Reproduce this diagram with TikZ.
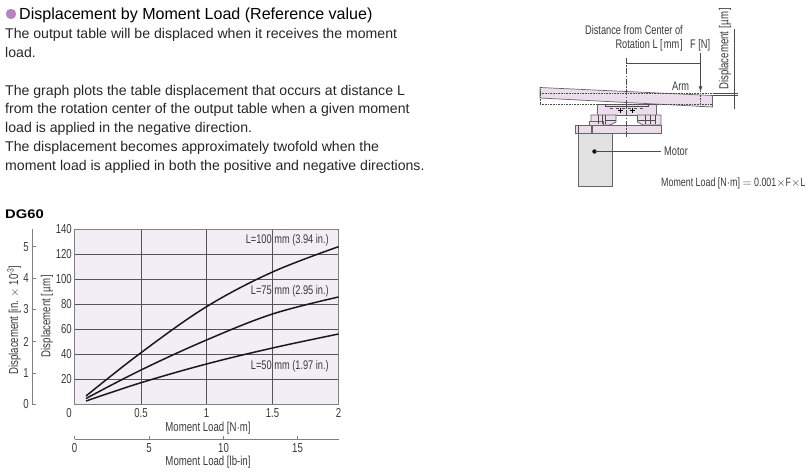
\documentclass[tikz,border=0pt]{standalone}
\usepackage{fontspec}
\setmainfont{Liberation Sans}
\newfontfamily\condfont[FakeStretch=0.74]{Liberation Sans}
\newfontfamily\headfont[FakeStretch=1.18]{Liberation Sans}
\usepackage{tikz}
\usetikzlibrary{arrows.meta}
\definecolor{inkgray}{HTML}{3A3A3A}
\definecolor{gridgray}{HTML}{555555}
\definecolor{axisgray}{HTML}{808080}
\definecolor{plotpink}{HTML}{F3EEF6}
\definecolor{armpink}{HTML}{EBDDEC}
\definecolor{motorgray}{HTML}{E2E2E2}
\definecolor{bulletpurple}{HTML}{B683C4}
\newcommand{\micron}{[\kern0.8ptµ\kern0.8ptm\kern0.8pt]}
\tikzset{
    bodytext/.style={anchor=base west, inner sep=0pt, text=black!85, font=\fontsize{14.1}{16}\selectfont},
    chartlabel/.style={inner sep=0pt, text=inkgray, font=\condfont\fontsize{13}{15}\selectfont},
    curvelabel/.style={inner sep=0pt, text=inkgray, anchor=east, font=\condfont\fontsize{12.5}{14}\selectfont},
    smalllabel/.style={inner sep=0pt, text=inkgray, font=\condfont\fontsize{12.5}{14}\selectfont},
    gridline/.style={gridgray, line width=0.8pt},
    curveline/.style={black!90, line width=1.5pt},
    axisline/.style={axisgray, line width=0.9pt},
    partline/.style={black!60, line width=0.7pt, fill=armpink},
    thinline/.style={black!70, line width=0.6pt},
}
\begin{document}
\begin{tikzpicture}[x=1pt, y=-1pt]
    \useasboundingbox (0,0) rectangle (810,473);
    % text block
    \fill[bulletpurple] (11,14) circle (5.2);
    \node[anchor=base west, inner sep=0pt, font=\fontsize{16.05}{18}\selectfont] (title) at (19,19.5) {Displacement by Moment Load (Reference value)};
    \foreach \y/\txt [count=\i] in {
        38.5/The output table will be displaced when it receives the moment,
        57.5/load.,
        96/The graph plots the table displacement that occurs at distance L,
        114/from the rotation center of the output table when a given moment,
        133/load is applied in the negative direction.,
        152/The displacement becomes approximately twofold when the,
        171/moment load is applied in both the positive and negative directions.
    } {
        \node[bodytext] (line\i) at (5,\y) {\txt};
    }
    \node[anchor=base west, inner sep=0pt, font=\headfont\bfseries\fontsize{12.5}{14}\selectfont] (dgname) at (5,218) {DG60};
    % graph
    \fill[plotpink] (74.5,229) rectangle (338.5,404.5);
    \foreach \y in {254,279,304,329,354.5,379.5} {
        \draw[gridline] (74.5,\y) -- (338.5,\y);
    }
    \foreach \x in {141,206.5,272.5} {
        \draw[gridline, line width=1pt] (\x,229) -- (\x,404.5);
    }
    \draw[axisline] (74.5,229) rectangle (338.5,404.5);
    \draw[curveline] plot[smooth, tension=0.6] coordinates {(86,396) (141,352.7) (206.5,306.7) (272.5,272) (338.5,246.7)};
    \draw[curveline] plot[smooth, tension=0.6] coordinates {(86,398.5) (141,370) (206.5,340) (272.5,314) (338.5,297)};
    \draw[curveline] plot[smooth, tension=0.6] coordinates {(86,401) (141,382.7) (206.5,364) (272.5,348) (338.5,334)};
    \node[curvelabel] (labelhundred) at (329,240.5) {L=100 mm (3.94 in.)};
    \node[curvelabel] (labelseventyfive) at (329,291) {L=75 mm (2.95 in.)};
    \node[curvelabel] (labelfifty) at (329,366) {L=50 mm (1.97 in.)};
    % axis labels of the graph
    \foreach \y/\txt in {229/140,254/120,279/100,304/80,329/60,354.5/40,379.5/20} {
        \node[chartlabel, anchor=east] (um\txt) at (72,\y) {\txt};
    }
    \foreach \x/\txt in {69/0,141/0.5,206.5/1,272.5/1.5,338.5/2} {
        \node[chartlabel] (nm\txt) at (\x,413) {\txt};
    }
    \node[chartlabel] (nmtitle) at (208,428) {Moment Load [N$\cdot$m]};
    \node[chartlabel, rotate=90] (umtitle) at (47,316) {Displacement \micron};
    % inch axis
    \coordinate (intop) at (32.5,229);
    \coordinate (inbottom) at (32.5,404.5);
    \draw[axisline] (intop) -- (inbottom);
    \foreach \y/\txt in {404.5/0,373.5/1,341.5/2,309.5/3,278/4,246.7/5} {
        \draw[axisline] (32.5,\y) -- (36,\y);
        \node[chartlabel, anchor=east] (in\txt) at (29,\y) {\txt};
    }
    \node[chartlabel, rotate=90] (intitle) at (14,320) {Displacement [in. $\times$ 10\textsuperscript{-3}]};
    % lb-in axis
    \coordinate (lbleft) at (74.5,439);
    \coordinate (lbright) at (338.5,439);
    \draw[axisline] (lbleft) -- (lbright);
    \foreach \x/\txt in {74.5/0,149/5,223.5/10,297.5/15} {
        \draw[axisline] (\x,439) -- (\x,436);
        \node[chartlabel] (lb\txt) at (\x,448.5) {\txt};
    }
    \node[chartlabel] (lbtitle) at (208,462) {Moment Load [lb-in]};
    % cut-away of the table and motor
    \draw[partline, fill=motorgray] (578,133) rectangle (612.5,186.5);
    \draw[partline] (597.5,104) rectangle (656,115);
    \draw[partline] (591,115) -- (616,115) -- (616,122) -- (610,125) -- (591,125) -- cycle;
    \draw[partline] (637.5,115) -- (661,115) -- (661,125) -- (643,125) -- (637.5,122) -- cycle;
    \draw[partline] (589,121) rectangle (603,125);
    \draw[partline] (592,125) rectangle (661,133.5);
    \draw[partline] (575.5,125.5) rectangle (591,133.5);
    \draw[thinline] (578,125.5) -- (578,133.5);
    \foreach \x in {598,602,605} {
        \draw[thinline] (\x,115) -- (\x,124);
    }
    \foreach \x in {645,650,655} {
        \draw[thinline] (\x,115) -- (\x,124);
    }
    \draw[thinline] (605,120) -- (616,120);
    \draw[thinline] (637.5,120) -- (655,120);
    % arm
    \draw[partline] (540,87.5) -- (712.5,95.5) -- (712.5,107) -- (540,98) -- cycle;
    \draw[thinline, densely dotted] (540,93.5) -- (712.5,93.5);
    \draw[thinline, densely dotted] (540,104.5) -- (712.5,104.5);
    \draw[thinline, densely dotted] (540,87.5) -- (540,104.5);
    \draw[thinline] (605,104) -- (605,106.5) -- (648,106.5) -- (648,104);
    \draw[thinline, dashed] (610,108) -- (645,108);
    \draw[black, line width=0.8pt] (617.8,110.5) -- (622.8,110.5) (620.3,108) -- (620.3,113);
    \draw[black, line width=0.8pt] (629.5,110.5) -- (634.5,110.5) (632,108) -- (632,113);
    % centre line and dimension
    \coordinate (centertop) at (626.5,58);
    \coordinate (centerbottom) at (626.5,137);
    \draw[thinline, dash pattern=on 6pt off 1.5pt on 1.5pt off 1.5pt] (centertop) -- (centerbottom);
    \coordinate (forcetop) at (700.5,53);
    \coordinate (forcetip) at (700.5,91.5);
    \coordinate (forcefoot) at (700.5,107);
    \coordinate (distleft) at (626.5,63.5);
    \coordinate (distright) at (700.5,63.5);
    \draw[thinline] (distleft) -- (distright);
    \draw[thinline, -{Latex[length=5pt, width=4pt]}] (forcetop) -- (forcetip);
    \draw[thinline, densely dotted] (forcetip) -- (forcefoot);
    % displacement marks
    \coordinate (disptop) at (734.5,29);
    \coordinate (dispbottom) at (734.5,109);
    \draw[thinline] (disptop) -- (dispbottom);
    \draw[thinline] (712.5,93.5) -- (737.5,93.5);
    \draw[thinline] (712.5,95.5) -- (737.5,95.5);
    % leader to motor
    \coordinate (motordot) at (594.5,151.5);
    \coordinate (motorend) at (661,151.5);
    \fill[black] (motordot) circle (2.2);
    \node[smalllabel, anchor=west] (motor) at (664,151.5) {Motor};
    \draw[thinline] (motordot) -- (motorend);
    % texts of the cut-away
    \node[smalllabel, anchor=east] (distance) at (683,30) {Distance from Center of};
    \node[smalllabel, anchor=east] (rotation) at (683,45.5) {Rotation L [\kern1ptmm\kern1pt]};
    \node[smalllabel, anchor=west] (force) at (690,45.5) {F [N]};
    \node[smalllabel, anchor=west] (arm) at (672,86) {Arm};
    \node[chartlabel, rotate=90, anchor=west] (disp) at (725,90) {Displacement \micron};
    \node[smalllabel, anchor=west, font=\condfont\fontsize{12}{14}\selectfont] (formula) at (661,183) {Moment Load [N$\cdot$m] $=$ 0.001$\times$F$\times$L};
\end{tikzpicture}
\end{document}
